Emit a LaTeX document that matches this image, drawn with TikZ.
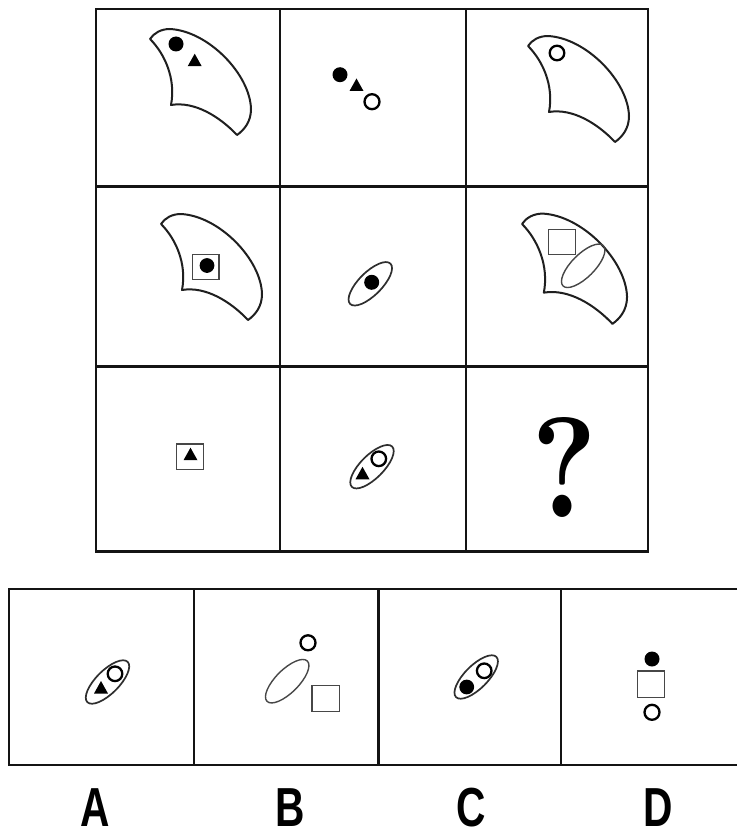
\documentclass[tikz,border=0pt]{standalone}
\usepackage{fontspec}
\newfontfamily\labelfont{Liberation Sans}
\tikzset{
  gridline/.style={line width=2.7pt, draw=black!92},
  clawline/.style={line width=2pt, draw=black!88, line join=round},
  ringline/.style={draw=black, line width=2.3pt},
  sqline/.style={draw=black!72, line width=1.2pt},
  ellline/.style={draw=black!82, line width=1.7pt},
  ellthin/.style={draw=black!72, line width=1.4pt},
  optlabel/.style={font=\labelfont\bfseries\fontsize{55}{58}\selectfont, inner sep=0pt, anchor=base},
  pics/claw/.style={code={\draw[clawline] (0,0) .. controls (4,-6) and (11,-10) .. (20,-10) .. controls (58,-8) and (100,35) .. (101,70) .. controls (101,83) and (94,91) .. (87,96) .. controls (70,78) and (45,62) .. (21,66) .. controls (26,40) and (15,15) .. cycle;}},
  pics/tri/.style={code={\fill[black] (0,-6.5) -- (7,6) -- (-7,6) -- cycle;}},
}
\begin{document}
\begin{tikzpicture}[x=1pt,y=-1pt]
\useasboundingbox (0,0) rectangle (737,832);
\fill[white] (0,0) rectangle (737,832);

% ---------- main grid ----------
\draw[gridline] (96,9) rectangle (648,551.5);
\draw[gridline] (280,9) -- (280,551.5);
\draw[gridline] (466,9) -- (466,551.5);
\draw[gridline] (96,186.5) -- (648,186.5);
\draw[gridline] (96,366.5) -- (648,366.5);

% row 1, col 1
\pic at (150,39) {claw};
\fill (176,44) circle[radius=7.5pt];
\pic at (194.7,60.2) {tri};

% row 1, col 2
\fill (340,74.7) circle[radius=7.5pt];
\pic at (356.5,85) {tri};
\draw[ringline] (372,101.7) circle[radius=7.5pt];

% row 1, col 3
\pic at (528,46) {claw};
\draw[ringline] (557,53) circle[radius=7.3pt];

% row 2, col 1
\pic at (161,224) {claw};
\draw[sqline] (192.3,254.3) rectangle (219,279.7);
\fill (207,265.5) circle[radius=7.4pt];

% row 2, col 2
\draw[ellline, rotate around={45:(370.3,283.8)}] (370.3,283.8) ellipse[x radius=28.5pt, y radius=11.5pt];
\fill (371.7,282.3) circle[radius=7.5pt];

% row 2, col 3
\pic[scale=1.04] at (522,224) {claw};
\draw[sqline] (548.8,229.7) rectangle (575.8,254.7);
\draw[ellthin, rotate around={45:(583.2,265.8)}] (583.2,265.8) ellipse[x radius=28.5pt, y radius=11.5pt];

% row 3, col 1
\draw[sqline] (176.7,444) rectangle (203.3,469.3);
\pic at (190.5,454.2) {tri};

% row 3, col 2
\draw[ellline, rotate around={45:(372,466.7)}] (372,466.7) ellipse[x radius=28.5pt, y radius=11.5pt];
\draw[ringline] (378.8,458.8) circle[radius=7.3pt];
\pic at (362.5,473.3) {tri};

% row 3, col 3 : question mark
\node[inner sep=0pt] (qm) at (564.3,467) {\resizebox{66pt}{100pt}{\bfseries ?}};

% ---------- options row ----------
\draw[gridline] (737,589) -- (9,589) -- (9,765) -- (737,765);
\draw[gridline] (194,589) -- (194,765);
\draw[gridline] (378.7,589) -- (378.7,765);
\draw[gridline] (561,589) -- (561,765);

% option A
\draw[ellline, rotate around={45:(107.5,682)}] (107.5,682) ellipse[x radius=28.5pt, y radius=11.5pt];
\draw[ringline] (115,673.8) circle[radius=7.3pt];
\pic at (101,687.5) {tri};

% option B
\draw[ringline] (308,642.8) circle[radius=7.5pt];
\draw[ellthin, rotate around={45:(287.2,681.2)}] (287.2,681.2) ellipse[x radius=28.5pt, y radius=11.5pt];
\draw[sqline] (311.9,685.7) rectangle (339.1,711.7);

% option C
\draw[ellline, rotate around={45:(476.2,677)}] (476.2,677) ellipse[x radius=28.5pt, y radius=11.5pt];
\draw[ringline] (484.2,670.8) circle[radius=7.3pt];
\fill (466.7,687) circle[radius=7.4pt];

% option D
\fill (652,659) circle[radius=7.5pt];
\draw[sqline] (637.3,671) rectangle (664.3,697.3);
\draw[ringline] (652,712.3) circle[radius=7.5pt];

% ---------- labels ----------
\node[optlabel] (la) at (95.3,826.5) {\scalebox{0.74}[1]{A}};
\node[optlabel] (lb) at (290,826.5) {\scalebox{0.74}[1]{B}};
\node[optlabel] (lc) at (471,826.5) {\scalebox{0.74}[1]{C}};
\node[optlabel] (ld) at (658,826.5) {\scalebox{0.74}[1]{D}};
\end{tikzpicture}
\end{document}
